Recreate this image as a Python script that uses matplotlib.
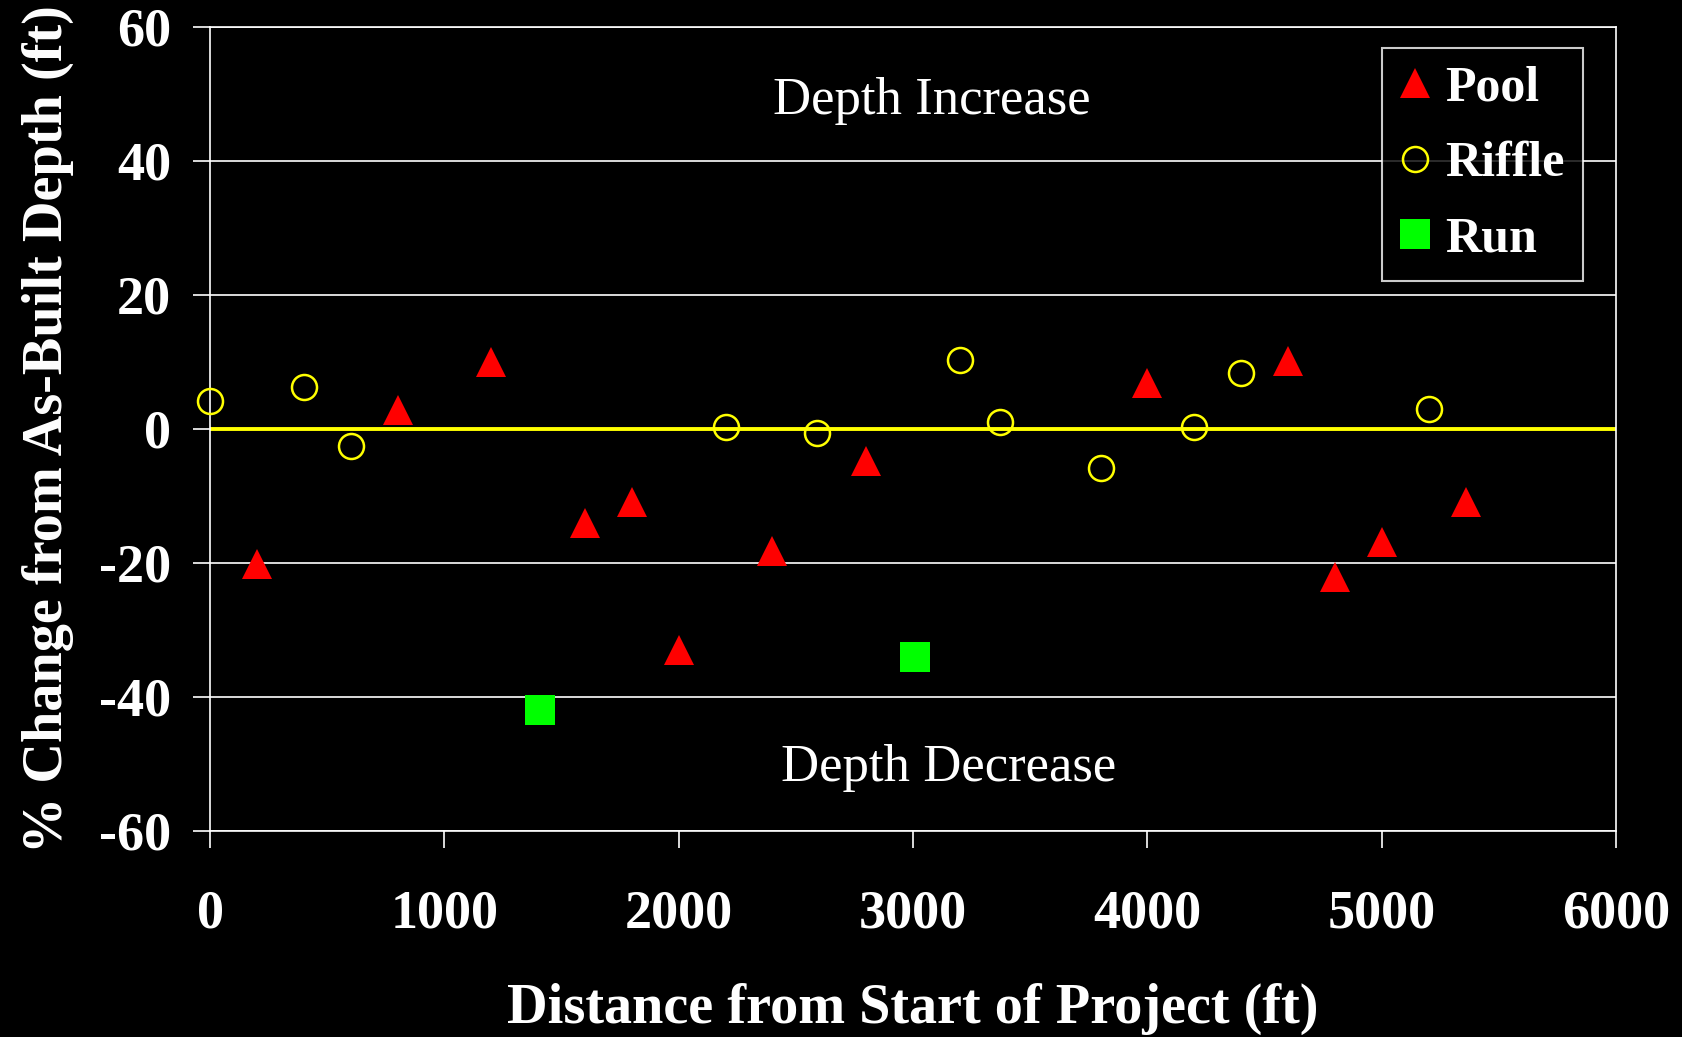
import matplotlib
matplotlib.use("Agg")
import matplotlib.pyplot as plt

# data
pool_x = [200, 800, 1200, 1600, 1800, 2000, 2400, 2800, 4000, 4600, 4800, 5000, 5360]
pool_y = [-20.1, 2.8, 10.0, -14.1, -10.9, -33.0, -18.2, -4.8, 6.9, 10.1, -22.1, -16.9, -10.9]

riffle_x = [0, 400, 600, 2200, 2590, 3200, 3370, 3800, 4200, 4400, 5200]
riffle_y = [4.2, 6.3, -2.6, 0.25, -0.6, 10.3, 1.0, -5.8, 0.25, 8.3, 3.0]

run_x = [1410, 3010]
run_y = [-42.0, -34.0]

x_ticks = [0, 1000, 2000, 3000, 4000, 5000, 6000]
y_ticks = [-60, -40, -20, 0, 20, 40, 60]

plt.rcParams['font.family'] = ['Liberation Serif', 'DejaVu Serif']
plt.rcParams['axes.unicode_minus'] = False

fig = plt.figure(figsize=(16.82, 10.37), dpi=100, facecolor='black')
ax = fig.add_axes([0.1249, 0.1987, 0.8359, 0.7753], facecolor='black')

ax.set_xlim(0, 6000)
ax.set_ylim(-60, 60)

# white grid lines on the y ticks, yellow zero line
for yv in y_ticks:
    if yv != 0:
        ax.axhline(yv, color='white', lw=1.2, zorder=1)
ax.axhline(0, color='#ffff00', lw=2.8, zorder=2)

ax.plot(pool_x, pool_y, ls='none', marker='^', ms=21, mfc='#ff0000', mec='#ff0000', mew=0,
        label='Pool', zorder=3, clip_on=False)
ax.plot(riffle_x, riffle_y, ls='none', marker='o', ms=18, mfc='none', mec='#ffff00', mew=1.8,
        label='Riffle', zorder=3, clip_on=False)
ax.plot(run_x, run_y, ls='none', marker='s', ms=21, mfc='#00ff00', mec='#00ff00', mew=0,
        label='Run', zorder=3, clip_on=False)

for sp in ax.spines.values():
    sp.set_color('white')
    sp.set_linewidth(1.2)

ax.set_xticks(x_ticks)
ax.set_yticks(y_ticks)
ax.tick_params(axis='both', colors='white', direction='out', length=12, width=1.2,
               labelsize=39)
ax.tick_params(axis='x', pad=30)
ax.tick_params(axis='y', pad=16)
for lab in ax.get_xticklabels() + ax.get_yticklabels():
    lab.set_fontweight('bold')

ax.set_xlabel('Distance from Start of Project (ft)', color='white', fontsize=40.5,
              fontweight='bold', labelpad=31)
ax.set_ylabel('% Change from As-Built Depth (ft)', color='white', fontsize=40.5,
              fontweight='bold', labelpad=18)

ax.text(3081, 49, 'Depth Increase', color='white', fontsize=38, ha='center', va='center')
ax.text(3150, -50.6, 'Depth Decrease', color='white', fontsize=38, ha='center', va='center')

leg = ax.legend(loc='upper right', bbox_to_anchor=(0.9765, 0.974), frameon=True, fancybox=False,
                facecolor='black', edgecolor='white', fontsize=36, handlelength=0.58,
                handletextpad=0.33, labelspacing=0.59, borderpad=0.36, borderaxespad=0)
leg.get_frame().set_linewidth(1.5)
for t in leg.get_texts():
    t.set_color('white')
    t.set_fontweight('bold')

fig.savefig('out.png', dpi=100, facecolor='black')
